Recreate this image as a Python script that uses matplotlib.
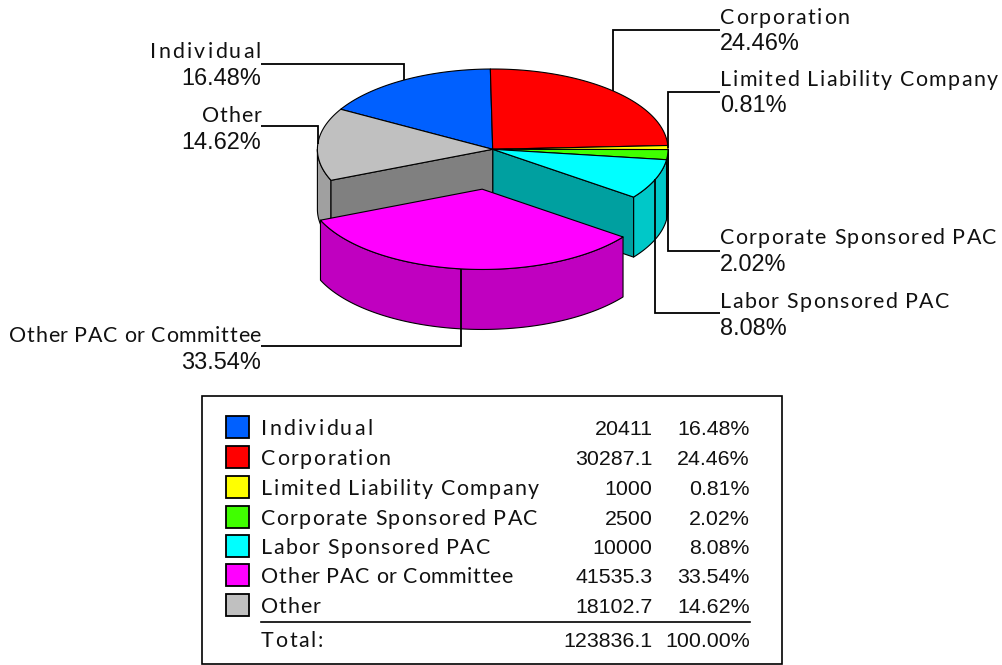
import numpy as np
import matplotlib
matplotlib.use("Agg")
import matplotlib.pyplot as plt
from matplotlib.patches import Polygon, Rectangle
from matplotlib.text import Text
from matplotlib.transforms import IdentityTransform, Bbox

categories = ["Individual", "Corporation", "Limited Liability Company",
              "Corporate Sponsored PAC", "Labor Sponsored PAC",
              "Other PAC or Committee", "Other"]
values = [20411, 30287.1, 1000, 2500, 10000, 41535.3, 18102.7]
value_labels = ["20411", "30287.1", "1000", "2500", "10000", "41535.3", "18102.7"]
pct_labels = ["16.48%", "24.46%", "0.81%", "2.02%", "8.08%", "33.54%", "14.62%"]
total_label = "123836.1"
total_pct = "100.00%"
top_colors = ["#0060FF", "#FF0000", "#FFFF00", "#40FF00", "#00FFFF", "#FF00FF", "#C0C0C0"]
rim_colors = ["#0048C0", "#C00000", "#C0C000", "#30C000", "#00C8C8", "#C000C0", "#A0A0A0"]
cut_colors = ["#003CA0", "#A00000", "#A0A000", "#28A000", "#00A0A0", "#A000A0", "#808080"]
explode = [0, 0, 0, 0, 0, 0.5, 0]

CX, CY, RX, RY, DEPTH = 492.7, 149.3, 175.3, 80.3, 60
START = 150.1
LABEL_FONT = "Lato"
NUM_FONT = "Liberation Sans"
NAME_SIZE, PCT_SIZE, NUM_SIZE = 15.4, 16.9, 15.4
EDGE = 0.8
TEXT_COLOR = "#111111"
# letter spacing (pixels) used for the name labels
TRACKING = {"Individual": 2.2, "Corporation": 1.55, "Limited Liability Company": 1.4,
            "Corporate Sponsored PAC": 1.25, "Labor Sponsored PAC": 1.25,
            "Other PAC or Committee": 0.6, "Other": 0.8, "Total:": 1.66}


class TrackedText(Text):
    """A single text object drawn with extra letter spacing."""

    def __init__(self, *args, tracking=0.0, **kwargs):
        super().__init__(*args, **kwargs)
        self._tracking = tracking

    def _prefix_width(self, renderer, s):
        if not s:
            return 0.0
        return renderer.get_text_width_height_descent(s, self.get_fontproperties(), False)[0]

    def get_window_extent(self, renderer=None, dpi=None):
        bb = super().get_window_extent(renderer, dpi)
        extra = self._tracking * (len(self.get_text()) - 1)
        if self.get_ha() == "right":
            return Bbox.from_extents(bb.x0 - extra, bb.y0, bb.x1, bb.y1)
        return Bbox.from_extents(bb.x0, bb.y0, bb.x1 + extra, bb.y1)

    def draw(self, renderer):
        s = self.get_text()
        total = self._prefix_width(renderer, s) + self._tracking * (len(s) - 1)
        x, y = self.get_transform().transform(self.get_unitless_position())
        x0 = x - total if self.get_ha() == "right" else x
        for k, ch in enumerate(s):
            if ch == " ":
                continue
            # position from the width of the string so far, which keeps the kerning
            px = x0 + self._prefix_width(renderer, s[:k + 1]) - self._prefix_width(renderer, ch) + k * self._tracking
            g = Text(px, y, ch, fontproperties=self.get_fontproperties(), color=self.get_color(),
                     ha="left", va="baseline", transform=IdentityTransform())
            g.set_figure(self.get_figure())
            g.draw(renderer)


fig = plt.figure(figsize=(10.02, 6.65), dpi=100)
ax = fig.add_axes([0, 0, 1, 1])
ax.set_xlim(0, 1002)
ax.set_ylim(665, 0)
ax.axis("off")


def name_text(x, y, s, ha):
    t = TrackedText(x, y, s, ha=ha, va="baseline", family=LABEL_FONT, fontsize=NAME_SIZE,
                    color=TEXT_COLOR, tracking=TRACKING[s], transform=ax.transData)
    ax.add_artist(t)


def num_text(x, y, s, ha, size):
    ax.text(x, y, s, ha=ha, va="baseline", family=NUM_FONT, fontsize=size, color=TEXT_COLOR)


vals = np.array(values, float)
sweeps = vals / vals.sum() * 360
a_start = START - np.concatenate([[0], np.cumsum(sweeps)[:-1]])
a_end = a_start - sweeps
a_mid = (a_start + a_end) / 2


def offset(i):
    m = np.radians(a_mid[i])
    return CX + explode[i] * RX * np.cos(m), CY - explode[i] * RY * np.sin(m)


def arc(i, a1, a2, dz=0):
    cx, cy = offset(i)
    t = np.radians(np.linspace(a1, a2, max(int(abs(a1 - a2) * 2), 2)))
    return np.column_stack([cx + RX * np.cos(t), cy - RY * np.sin(t) + dz])


def poly(pts, color, z):
    ax.add_patch(Polygon(pts, closed=True, fc=color, ec="black", lw=EDGE, zorder=z, joinstyle="round"))


def rim(i, z):
    # visible outer wall: the part of the slice on the front half of the ellipse
    s, e = a_start[i], a_end[i]
    for shift in (0, -360):
        lo, hi = max(e + shift, -180), min(s + shift, 0)
        if hi > lo:
            poly(np.vstack([arc(i, hi, lo), arc(i, lo, hi, DEPTH)]), rim_colors[i], z)


def cut(i, angle, z):
    cx, cy = offset(i)
    t = np.radians(angle)
    p = (cx + RX * np.cos(t), cy - RY * np.sin(t))
    poly([(cx, cy), p, (p[0], p[1] + DEPTH), (cx, cy + DEPTH)], cut_colors[i], z)


def top(i, z):
    cx, cy = offset(i)
    poly(np.vstack([[(cx, cy)], arc(i, a_start[i], a_end[i])]), top_colors[i], z)


n = len(vals)
order = [i for i in range(n) if not explode[i]]
for i in order:
    rim(i, 2)
for i in range(n):
    if explode[(i + 1) % n]:
        cut(i, a_end[i], 3)
    if explode[(i - 1) % n]:
        cut(i, a_start[i], 3)
for i in order:
    top(i, 4)
for i in range(n):
    if explode[i]:
        rim(i, 5)
        top(i, 6)

# callouts: label x, leader y, name baseline, percent baseline
callouts = {
    0: (261, 64, 58, 85),
    1: (720, 29.5, 23.5, 50.5),
    2: (720, 92, 86, 112.5),
    3: (720, 251, 244, 271),
    4: (720, 313, 308, 335),
    5: (261, 346, 342, 369),
    6: (261, 126, 122, 149),
}
for i, (lx, ly, ny, py) in callouts.items():
    cx, cy = offset(i)
    t = np.radians(a_mid[i])
    ax_x, ax_y = cx + RX * np.cos(t), cy - RY * np.sin(t)
    ax.plot([lx, ax_x, ax_x], [ly, ly, ax_y], color="black", lw=1.3, zorder=8,
            solid_joinstyle="miter", solid_capstyle="butt")
    ha = "right" if lx < CX else "left"
    name_text(lx, ny, categories[i], ha)
    num_text(lx, py, pct_labels[i], ha, PCT_SIZE)

# legend table
ax.add_patch(Rectangle((202, 396), 580, 268, fc="white", ec="black", lw=1.2, zorder=1))
row_y = [427, 457, 487, 517, 546, 575, 605]
for i, y in enumerate(row_y):
    ax.add_patch(Rectangle((226, y - 11), 23, 22, fc=top_colors[i], ec="black", lw=1.3, zorder=2))
    name_text(261, y + 8, categories[i], "left")
    num_text(652.5, y + 8, value_labels[i], "right", NUM_SIZE)
    num_text(750, y + 8, pct_labels[i], "right", NUM_SIZE)
ax.plot([261, 750], [622, 622], color="black", lw=1.2, zorder=2)
name_text(261, 647, "Total:", "left")
num_text(652.5, 647, total_label, "right", NUM_SIZE)
num_text(750, 647, total_pct, "right", NUM_SIZE)

fig.savefig("out.png", dpi=100)
